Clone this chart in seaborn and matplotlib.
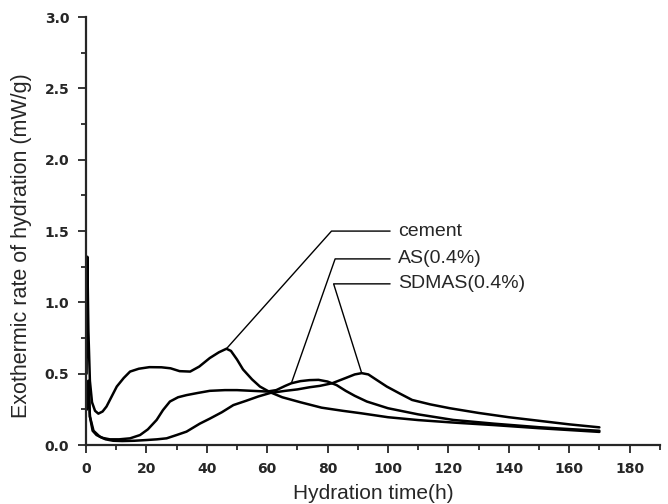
import matplotlib
matplotlib.use("Agg")
import matplotlib.pyplot as plt
import numpy as np
import pandas as pd
import seaborn as sns
from matplotlib.ticker import MultipleLocator, FormatStrFormatter

# values
cement_t = [0.2, 0.45, 0.8, 1.3, 2.0, 3.0, 4.1, 5.5, 6.8, 8.5, 10.2, 12.5, 14.6, 17.5, 21, 25,
            28, 31, 34.5, 37.5, 41, 44, 46.5, 48, 50, 52, 55, 57.6, 61, 65, 71, 78, 85, 91,
            100, 110, 122, 135, 150, 160, 170]
cement_v = [0.5, 1.32, 0.8, 0.45, 0.3, 0.24, 0.22, 0.235, 0.27, 0.34, 0.41, 0.47, 0.515, 0.535,
            0.546, 0.545, 0.538, 0.518, 0.515, 0.55, 0.61, 0.65, 0.675, 0.66, 0.6, 0.53, 0.46,
            0.41, 0.37, 0.335, 0.30, 0.262, 0.24, 0.223, 0.195, 0.175, 0.157, 0.14, 0.118,
            0.105, 0.092]

as_t = [0.3, 0.8, 1.3, 2.2, 3.5, 5.5, 7.9, 11, 14.6, 17.9, 20.5, 23.4, 25.5, 27.8, 30.5, 33.3,
        37, 41, 46, 50, 55, 60, 63, 66, 68, 71, 74, 77, 80, 83, 86, 89, 93, 100, 110, 121.6,
        135, 150, 160, 170]
as_v = [0.25, 0.45, 0.2, 0.1, 0.07, 0.05, 0.04, 0.04, 0.047, 0.07, 0.11, 0.176, 0.245, 0.305,
        0.335, 0.35, 0.365, 0.38, 0.385, 0.385, 0.38, 0.375, 0.385, 0.415, 0.433, 0.448, 0.455,
        0.457, 0.445, 0.42, 0.38, 0.345, 0.305, 0.258, 0.215, 0.176, 0.15, 0.125, 0.112, 0.1]

sdmas_t = [0.3, 0.8, 1.3, 2.5, 4.6, 6.5, 9, 12, 16, 20, 23.5, 26.7, 30, 33.3, 37.7, 41, 45,
           48.8, 53, 57, 61, 66, 70, 74, 77.5, 81.5, 86, 89, 91.3, 93.5, 96, 99.6, 104, 108,
           114, 120.5, 130, 140, 150, 160, 170]
sdmas_v = [0.25, 0.45, 0.2, 0.1, 0.058, 0.04, 0.03, 0.028, 0.03, 0.035, 0.04, 0.047, 0.07,
           0.094, 0.15, 0.185, 0.23, 0.28, 0.31, 0.34, 0.365, 0.38, 0.39, 0.405, 0.415, 0.433,
           0.47, 0.495, 0.504, 0.495, 0.46, 0.41, 0.36, 0.316, 0.285, 0.258, 0.225, 0.195,
           0.17, 0.145, 0.124]

series_names = ["cement", "AS(0.4%)", "SDMAS(0.4%)"]
series_t = [cement_t, as_t, sdmas_t]
series_v = [cement_v, as_v, sdmas_v]

# leader lines: point on curve (time), elbow (time, value), label start
anchor_t = [46.5, 68, 91.3]
elbow_t = [81.3, 82.5, 82.0]
elbow_v = [1.50, 1.305, 1.13]
leader_end_t = 100.7
label_t = 103.4

df = pd.concat([pd.DataFrame({"t": t, "v": v, "series": n})
                for n, t, v in zip(series_names, series_t, series_v)], ignore_index=True)

sns.set_style("ticks")
plt.rcParams["font.family"] = ["Liberation Sans", "DejaVu Sans"]

fig = plt.figure(figsize=(6.68, 5.04), dpi=100)
ax = fig.add_axes([0.1287, 0.117, 0.859, 0.849])

for name in series_names:
    sub = df[df["series"] == name]
    sns.lineplot(data=sub, x="t", y="v", ax=ax, color="black", lw=1.8,
                 sort=False, estimator=None, legend=False)

for name, t, v, at, et, ev in zip(series_names, series_t, series_v, anchor_t, elbow_t, elbow_v):
    av = np.interp(at, t, v)
    ax.plot([at, et, leader_end_t], [av, ev, ev], color="black", lw=1.0)
    ax.text(label_t, ev, name, fontsize=14, va="center", ha="left")

ax.set_xlim(0, 190)
ax.set_ylim(0, 3.0)
sns.despine(ax=ax)
ax.spines["left"].set_linewidth(1.6)
ax.spines["bottom"].set_linewidth(1.6)

ax.xaxis.set_major_locator(MultipleLocator(20))
ax.xaxis.set_minor_locator(MultipleLocator(10))
ax.yaxis.set_major_locator(MultipleLocator(0.5))
ax.yaxis.set_minor_locator(MultipleLocator(0.25))
ax.yaxis.set_major_formatter(FormatStrFormatter("%.1f"))
ax.set_xticks(np.arange(0, 181, 20))
ax.tick_params(which="major", direction="out", length=6, width=1.3, labelsize=10, pad=6)
ax.tick_params(which="minor", direction="out", length=3.5, width=1.3)
for lab in ax.get_xticklabels() + ax.get_yticklabels():
    lab.set_fontweight("bold")
    lab.set_family("DejaVu Sans")

ax.set_xlabel("Hydration time(h)", fontsize=15)
ax.set_ylabel("Exothermic rate of hydration (mW/g)", fontsize=15.5)
ax.xaxis.set_label_coords(0.5, -0.091)
ax.yaxis.set_label_coords(-0.094, 0.467)

fig.savefig("out.png", dpi=100)
